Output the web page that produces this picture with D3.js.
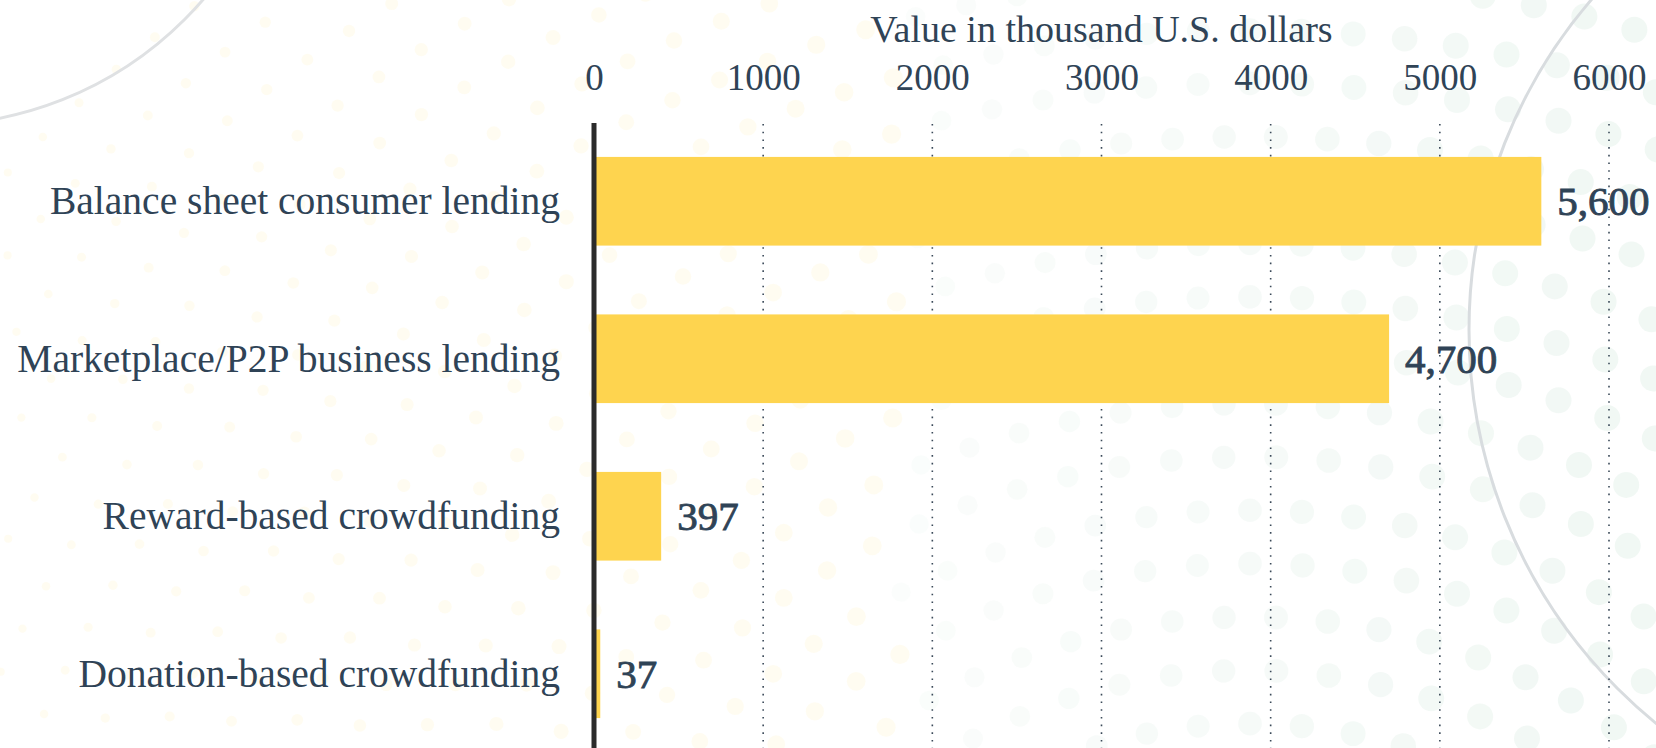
<!DOCTYPE html>
<html>
<head>
<meta charset="utf-8">
<script src="https://cdn.jsdelivr.net/npm/d3@7"></script>
<style>
  html, body { margin: 0; padding: 0; background: #ffffff; }
  svg { display: block; }
  text { font-family: "Liberation Serif", "Times New Roman", serif; fill: #2f4356; }
</style>
</head>
<body>
<svg id="chart" width="1656" height="748"></svg>
<script>
// Transaction value by segment, in thousand U.S. dollars
const categories = [
  "Balance sheet consumer lending",
  "Marketplace/P2P business lending",
  "Reward-based crowdfunding",
  "Donation-based crowdfunding"
];
const values = [5600, 4700, 397, 37];
const tickValues = [0, 1000, 2000, 3000, 4000, 5000, 6000];
const axisTitle = "Value in thousand U.S. dollars";

const W = 1656, H = 748;
const svg = d3.select("#chart");

// ---- decorative backdrop: faint dot fields and thin arcs ----
const bg = svg.append("g").attr("class", "backdrop");
const ringCenter = [1250, 1180];
const rings = d3.range(380, 1700, 58);
const dots = [];
rings.forEach((r, i) => {
  const n = Math.round((Math.PI * r) / 52);
  for (let k = 0; k <= n; k++) {
    const a = Math.PI + (k / n) * Math.PI;
    const px = ringCenter[0] + r * Math.cos(a);
    const py = ringCenter[1] + r * Math.sin(a) * 0.92;
    if (px < -10 || px > W + 10 || py < -10 || py > H + 10) continue;
    dots.push({ x: px, y: py, i });
  }
});
bg.selectAll("circle.dot")
  .data(dots)
  .join("circle")
  .attr("class", "dot")
  .attr("cx", d => d.x)
  .attr("cy", d => d.y)
  .attr("r", d => 4 + Math.min(9, d.x / 160))
  .attr("fill", d => d.x < 900 ? "#fff6cf" : "#dcede4")
  .attr("opacity", d => d.x < 900 ? 0.3 : 0.12 + 0.28 * Math.min(1, (d.x - 900) / 700));

bg.append("circle")
  .attr("cx", -70).attr("cy", -235).attr("r", 360)
  .attr("fill", "none").attr("stroke", "#dfe1e3").attr("stroke-width", 3);
bg.append("circle")
  .attr("cx", 1976).attr("cy", 330).attr("r", 507)
  .attr("fill", "none").attr("stroke", "#d8dcdf").attr("stroke-width", 3);

// ---- scales ----
const x = d3.scaleLinear().domain([0, 6000]).range([594, 1609]);
const y = d3.scaleBand()
  .domain(categories)
  .range([124, 751])
  .paddingInner(0.437)
  .paddingOuter(0.209);

// ---- vertical dotted grid ----
svg.append("g")
  .selectAll("line")
  .data(tickValues.filter(v => v > 0))
  .join("line")
  .attr("x1", d => x(d)).attr("x2", d => x(d))
  .attr("y1", 124).attr("y2", H)
  .attr("stroke", "#3b4a59")
  .attr("stroke-width", 1.6)
  .attr("stroke-dasharray", "1.6 6.1");

// ---- top axis labels ----
const axis = d3.axisTop(x).tickValues(tickValues).tickFormat(d3.format("d")).tickSize(0).tickPadding(0);
const axisG = svg.append("g").attr("transform", "translate(0,90)").call(axis);
axisG.select(".domain").remove();
axisG.selectAll("text")
  .attr("font-family", "Liberation Serif, serif")
  .attr("font-size", 37)
  .attr("fill", "#2f4356")
  .attr("dy", 0);

svg.append("text")
  .attr("x", (x(0) + x(6000)) / 2)
  .attr("y", 42)
  .attr("text-anchor", "middle")
  .attr("font-size", 38)
  .text(axisTitle);

// ---- bars ----
svg.append("g")
  .selectAll("rect")
  .data(values)
  .join("rect")
  .attr("x", x(0))
  .attr("y", (d, i) => y(categories[i]))
  .attr("width", d => x(d) - x(0))
  .attr("height", y.bandwidth())
  .attr("fill", "#fed44f");

// ---- baseline axis line ----
svg.append("line")
  .attr("x1", x(0)).attr("x2", x(0))
  .attr("y1", 123).attr("y2", H)
  .attr("stroke", "#2b2b2b")
  .attr("stroke-width", 5);

// ---- category labels ----
svg.append("g")
  .selectAll("text")
  .data(categories)
  .join("text")
  .attr("x", 560)
  .attr("y", d => y(d) + y.bandwidth() / 2 + 13)
  .attr("text-anchor", "end")
  .attr("font-size", 39.5)
  .text(d => d);

// ---- value labels ----
svg.append("g")
  .selectAll("text")
  .data(values)
  .join("text")
  .attr("x", d => x(d) + 16)
  .attr("y", (d, i) => y(categories[i]) + y.bandwidth() / 2 + 14)
  .attr("font-size", 41)
  .attr("stroke", "#2f4356")
  .attr("stroke-width", 0.9)
  .text(d => d3.format(",")(d));
</script>
</body>
</html>
